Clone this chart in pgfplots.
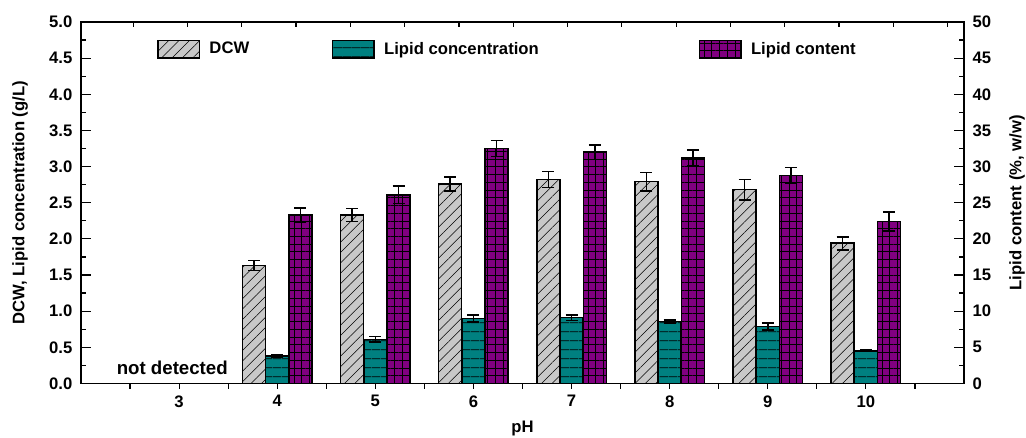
\documentclass[border=0pt]{standalone}
\usepackage{fontspec}
\setmainfont{Liberation Sans}
\usepackage{pgfplots}
\pgfplotsset{compat=1.18}
\usetikzlibrary{patterns.meta}

\definecolor{dcwgray}{RGB}{200,200,200}
\definecolor{lcteal}{RGB}{0,128,128}
\definecolor{lcpurple}{RGB}{128,0,128}

\tikzset{lbl/.style={font=\bfseries\fontsize{12.5}{14}\selectfont}}
\pgfplotsset{
  barleg/.style={legend image code/.code={\draw[##1] (0pt,-6.5pt) rectangle (31pt,6.5pt);}},
  dcw/.style={fill=dcwgray, draw=black, line width=1.1pt,
    postaction={pattern={Lines[angle=45,distance=5.5pt,line width=0.4pt]}}},
  lconc/.style={fill=lcteal, draw=black, line width=1.1pt,
    postaction={pattern={Lines[angle=0,distance=6.5pt,line width=0.6pt]}}},
  lcont/.style={fill=lcpurple, draw=black, line width=1.1pt,
    postaction={pattern={Hatch[angle=0,distance=5.8pt,line width=0.5pt]}}},
  ebar/.style={error bars/.cd, y dir=both, y explicit,
    error mark options={rotate=90, mark size=4.5pt, line width=1.2pt},
    error bar style={line width=1.2pt, black}},
}

\begin{document}
\begin{tikzpicture}
% left axis: DCW and lipid concentration
\begin{axis}[
  name=ax,
  scale only axis, width=662pt, height=271pt,
  xmin=2, xmax=11, ymin=0, ymax=5,
  axis line style={line width=1.1pt},
  tick align=inside, tick style={black, line width=0.9pt},
  xtick={3,...,10}, xtick pos=bottom,
  major x tick style={draw=none},
  minor xtick={2.5,3,...,10.5},
  minor tick length=4pt, major tick length=7.5pt,
  ytick={0,0.5,...,5}, minor y tick num=1, ytick pos=left,
  yticklabel style={/pgf/number format/fixed, /pgf/number format/fixed zerofill,
    /pgf/number format/precision=1, xshift=-3pt},
  xticklabel style={yshift=2pt},
  /pgf/number format/assume math mode=true,
  tick label style={lbl},
  label style={lbl},
  xlabel={pH}, ylabel={DCW, Lipid concentration (g/L)},
  xlabel style={at={(axis description cs:0.5,-0.1245)}, anchor=center},
  ylabel style={at={(axis description cs:-0.0691,0.5)}, anchor=center},
  ybar, bar width=17.25pt,
  legend columns=3,
  legend style={draw=none, fill=none, lbl, inner xsep=0pt,
    at={(axis description cs:0.0861,0.925)}, anchor=west,
    /tikz/every odd column/.append style={column sep=5pt},
    /tikz/column 2/.style={column sep=60pt},
    /tikz/column 4/.style={column sep=118pt}},
  clip=false,
]
\addplot[dcw, barleg, bar shift=-17.4pt, ebar] coordinates {
  (4,1.63) +- (0,0.07)
  (5,2.33) +- (0,0.09)
  (6,2.76) +- (0,0.10)
  (7,2.82) +- (0,0.11)
  (8,2.79) +- (0,0.13)
  (9,2.68) +- (0,0.14)
  (10,1.94) +- (0,0.09)
};
\addlegendentry{DCW}
\addplot[lconc, barleg, bar shift=0pt, ebar] coordinates {
  (4,0.38) +- (0,0.01)
  (5,0.61) +- (0,0.04)
  (6,0.90) +- (0,0.05)
  (7,0.91) +- (0,0.04)
  (8,0.86) +- (0,0.02)
  (9,0.79) +- (0,0.05)
  (10,0.45) +- (0,0.01)
};
\addlegendentry{Lipid concentration}
\addlegendimage{lcont, barleg}
\addlegendentry{Lipid content}
\node[font=\bfseries\fontsize{14}{15}\selectfont] at (axis cs:2.93,0.21) {not detected};
\end{axis}
% right axis: lipid content
\begin{axis}[
  scale only axis, width=662pt, height=271pt,
  xmin=2, xmax=11, ymin=0, ymax=50,
  axis x line=none, axis y line*=right,
  axis line style={line width=1.1pt},
  tick align=inside, tick style={black, line width=0.9pt},
  minor tick length=4pt, major tick length=7.5pt,
  ytick={0,5,...,50}, minor y tick num=1,
  yticklabel style={xshift=3pt},
  /pgf/number format/assume math mode=true,
  tick label style={lbl},
  ylabel style={lbl, at={(axis description cs:1.060,0.5)}, anchor=center},
  ylabel={Lipid content (\%, w/w)},
  ybar, bar width=17.25pt,
]
\addplot[lcont, bar shift=17.4pt, ebar] coordinates {
  (4,23.3) +- (0,1.0)
  (5,26.1) +- (0,1.2)
  (6,32.5) +- (0,1.1)
  (7,32.0) +- (0,1.0)
  (8,31.2) +- (0,1.1)
  (9,28.8) +- (0,1.1)
  (10,22.4) +- (0,1.3)
};
\end{axis}
% top ticks
\begin{axis}[
  scale only axis, width=662pt, height=271pt,
  xmin=-0.96, xmax=15.3, ymin=0, ymax=1,
  axis y line=none, axis x line*=top,
  axis line style={line width=1.1pt},
  tick align=inside, tick style={black, line width=0.9pt},
  major tick length=4pt,
  xtick={0,...,15}, xticklabels={},
]
\end{axis}
\pgfresetboundingbox
\useasboundingbox ([shift={(-60.75pt,-40.5pt)}]ax.south west) rectangle ([shift={(46.5pt,16.5pt)}]ax.north east);
\end{tikzpicture}
\end{document}
